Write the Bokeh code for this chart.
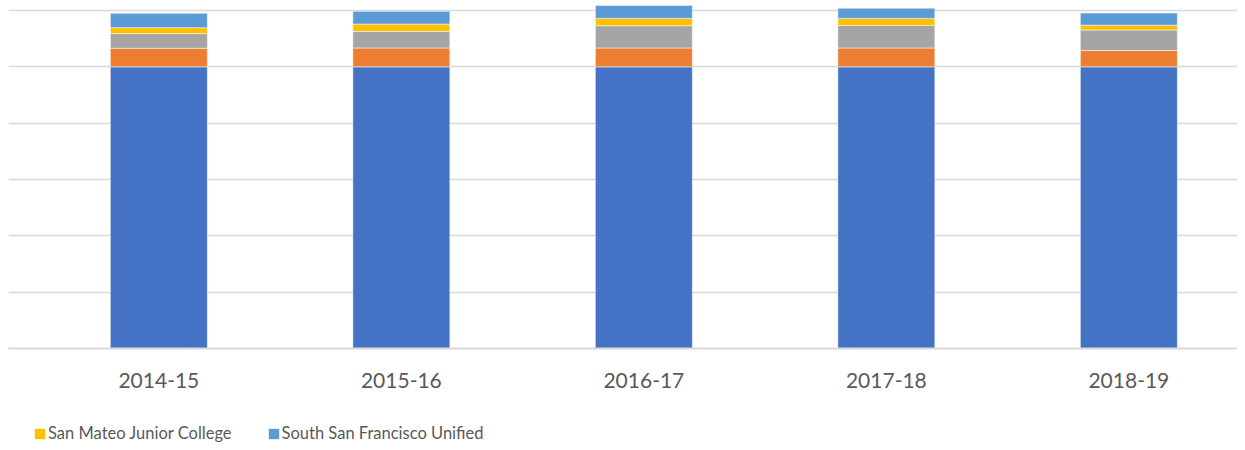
from bokeh.plotting import figure
from bokeh.layouts import column
from bokeh.models import Legend, LegendItem, SingleIntervalTicker, FixedTicker, Range1d, ColumnDataSource
from bokeh.embed import file_html
from bokeh.resources import INLINE

# ---- data ----
categories = ["2014-15", "2015-16", "2016-17", "2017-18", "2018-19"]
series_names = ["Series 1", "Series 2", "Series 3",
                "San Mateo Junior College", "South San Francisco Unified"]
series1 = [100.0, 100.0, 100.0, 100.0, 100.0]
series2 = [6.6, 6.7, 6.7, 6.7, 5.8]
series3 = [5.2, 5.9, 7.9, 8.0, 7.3]
smjc = [2.1, 2.6, 2.6, 2.5, 1.7]
ssfu = [5.1, 4.5, 4.6, 3.6, 4.3]
colors = ["#4472C4", "#ED7D31", "#A5A5A5", "#FFC000", "#5B9BD5"]

positions = list(range(len(categories)))
keys = ["s1", "s2", "s3", "s4", "s5"]
source = ColumnDataSource(dict(x=positions, s1=series1, s2=series2, s3=series3, s4=smjc, s5=ssfu))

FONT = "Lato"
W = 1237

# ---- main chart ----
p = figure(width=W, height=400, output_backend="svg", toolbar_location=None,
           title=None, x_range=Range1d(-0.62, 4.448), y_range=Range1d(0, 123.55),
           min_border_top=0, min_border_left=8, min_border_right=0, min_border_bottom=52)

renderers = p.vbar_stack(keys, x="x", width=0.4, source=source, color=colors,
                         line_color="white", line_width=0.5)

p.outline_line_color = None
p.xgrid.visible = False
p.ygrid.ticker = SingleIntervalTicker(interval=20)
p.ygrid.grid_line_color = "#d9d9d9"
p.ygrid.grid_line_width = 1.5
p.yaxis.visible = False

ax = p.xaxis[0]
ax.ticker = FixedTicker(ticks=positions)
ax.major_label_overrides = {i: c for i, c in zip(positions, categories)}
ax.major_tick_line_color = None
ax.minor_tick_line_color = None
ax.axis_line_color = "#d9d9d9"
ax.axis_line_width = 2
ax.major_label_text_font = FONT
ax.major_label_text_font_size = "21px"
ax.major_label_text_color = "#595959"
ax.major_label_standoff = 18

# ---- legend strip (same data, hidden glyphs supply the legend swatches) ----
lg = figure(width=W, height=46, output_backend="svg", toolbar_location=None, title=None,
            x_range=Range1d(-0.62, 4.448), y_range=Range1d(0, 123.55),
            x_axis_location=None, y_axis_location=None,
            min_border_top=0, min_border_left=0, min_border_right=0, min_border_bottom=0)
lg.grid.visible = False
lg.outline_line_color = None
hidden = lg.vbar_stack(keys, x="x", width=0.4, source=source, color=colors, line_color=None)
for r in hidden:
    r.visible = False

legend = Legend(items=[LegendItem(label=series_names[3], renderers=[hidden[3]]),
                       LegendItem(label=series_names[4], renderers=[hidden[4]])],
                orientation="horizontal", location=(25, 3),
                glyph_width=13, glyph_height=13, label_standoff=2, spacing=35,
                padding=0, margin=0, border_line_color=None, background_fill_alpha=0,
                inactive_fill_alpha=0,
                label_text_font=FONT, label_text_font_size="16.5px", label_text_color="#595959")
lg.add_layout(legend, "center")

layout = column(p, lg, spacing=0)
open("out.html", "w").write(file_html(layout, INLINE))
